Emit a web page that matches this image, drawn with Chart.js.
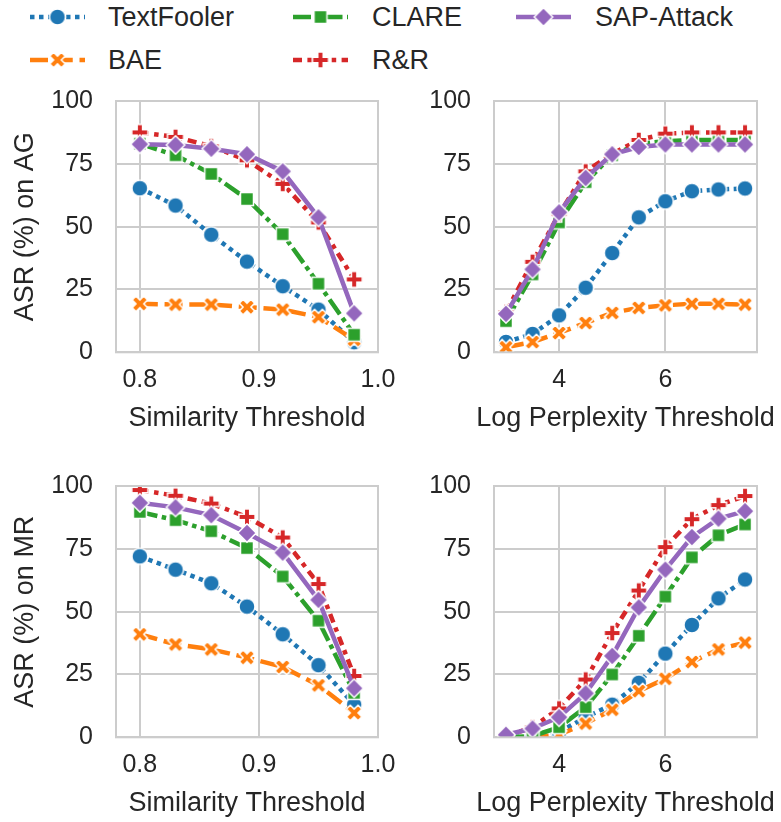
<!DOCTYPE html>
<html>
<head>
<meta charset="utf-8">
<script src="https://cdn.jsdelivr.net/npm/chart.js@4.4.0/dist/chart.umd.min.js"></script>
<style>
  body { margin: 0; width: 781px; height: 822px; overflow: hidden; background: #fff;
         font-family: "Liberation Sans", Arial, sans-serif; color: #262626; }
  canvas.panel { position: absolute; }
  .leg-sample { position: absolute; }
  .leg-text { position: absolute; font-size: 27px; line-height: 32px; white-space: nowrap; }
</style>
</head>
<body>
<div id="legend"></div>
<canvas id="agSim" class="panel"></canvas>
<canvas id="agPpl" class="panel"></canvas>
<canvas id="mrSim" class="panel"></canvas>
<canvas id="mrPpl" class="panel"></canvas>

<script>
// series
const seriesNames   = ['TextFooler', 'BAE', 'CLARE', 'R&R', 'SAP-Attack'];
const seriesColors  = ['#1f77b4', '#ff7f0e', '#2ca02c', '#d62728', '#9467bd'];
const seriesMarkers = ['circle', 'x', 'square', 'plus', 'diamond'];

// x values and ticks
const simThresholds = [0.80, 0.83, 0.86, 0.89, 0.92, 0.95, 0.98];
const pplThresholds = [3, 3.5, 4, 4.5, 5, 5.5, 6, 6.5, 7, 7.5];
const simTicks = [0.8, 0.9, 1.0];
const pplTicks = [4, 6];
const asrTicks = [0, 25, 50, 75, 100];

// ASR on AG vs similarity threshold
const agSimTextFooler = [65.3, 58.4, 46.8, 36.1, 26.3, 17.0, 4.0];
const agSimBAE        = [19.3, 19.0, 19.0, 18.0, 17.0, 14.0, 5.0];
const agSimCLARE      = [83.0, 78.4, 71.0, 61.0, 47.0, 27.3, 7.0];
const agSimRR         = [87.5, 85.7, 82.0, 76.4, 67.0, 51.7, 29.0];
const agSimSAP        = [82.8, 82.5, 81.0, 78.8, 72.0, 53.7, 15.5];

// ASR on AG vs log perplexity threshold
const agPplTextFooler = [4.1, 7.3, 14.7, 25.7, 39.5, 53.7, 60.1, 64.1, 64.8, 65.2];
const agPplBAE        = [2.0, 4.1, 7.7, 11.7, 15.7, 17.7, 18.7, 19.3, 19.3, 19.0];
const agPplCLARE      = [12.4, 31.0, 51.7, 67.7, 78.4, 83.0, 84.0, 84.5, 84.5, 84.5];
const agPplRR         = [16.0, 36.0, 55.0, 72.0, 79.0, 84.5, 87.0, 87.5, 87.5, 87.5];
const agPplSAP        = [15.3, 33.0, 55.7, 69.4, 78.8, 81.7, 82.7, 82.7, 82.7, 82.7];

// ASR on MR vs similarity threshold
const mrSimTextFooler = [72.0, 66.7, 61.3, 52.0, 41.0, 28.7, 13.0];
const mrSimBAE        = [41.0, 37.0, 35.0, 31.7, 28.0, 20.7, 9.7];
const mrSimCLARE      = [89.7, 86.4, 82.0, 75.3, 64.0, 46.4, 17.7];
const mrSimRR         = [98.4, 96.1, 93.0, 87.7, 79.5, 61.0, 24.4];
const mrSimSAP        = [93.3, 91.5, 88.4, 81.3, 73.5, 54.7, 19.5];

// ASR on MR vs log perplexity threshold
const mrPplTextFooler = [0.0, 0.5, 2.0, 8.0, 13.0, 21.7, 33.3, 44.7, 55.3, 62.8];
const mrPplBAE        = [0.0, 0.0, 1.0, 5.5, 11.0, 18.4, 23.3, 30.0, 35.0, 37.7];
const mrPplCLARE      = [0.0, 0.5, 4.0, 12.0, 25.0, 40.4, 56.0, 71.6, 80.4, 84.7];
const mrPplRR         = [0.5, 4.0, 11.5, 23.0, 41.5, 58.4, 75.7, 86.8, 92.4, 96.0];
const mrPplSAP        = [1.0, 3.5, 8.0, 17.5, 32.4, 51.7, 66.7, 79.7, 87.0, 90.0];

const LW = 4.5;
const dashes = [[LW, LW], [4 * LW, 1.5 * LW], [4 * LW, LW, LW, LW], [2 * LW, 1.2 * LW, LW, 1.2 * LW], []];
const FONT = '"Liberation Sans", Arial, sans-serif';
const INK = '#262626';
const GRID = '#cccccc';
const TICK_PAD_Y = 23;
const TICK_SIZE = 25;
const LABEL_SIZE = 27;

Chart.defaults.font.family = FONT;
Chart.defaults.color = INK;

// seaborn-like filled markers with a white edge
function markerCanvas(shape, color) {
  const s = 24;
  const c = document.createElement('canvas');
  c.width = s; c.height = s;
  const g = c.getContext('2d');
  g.translate(s / 2, s / 2);
  g.beginPath();
  let pts = null, k = 1;
  if (shape === 'circle') {
    g.arc(0, 0, 8, 0, Math.PI * 2);
  } else if (shape === 'square') {
    g.rect(-6.5, -6.5, 13, 13);
  } else if (shape === 'diamond') {
    pts = [[0, -1], [1, 0], [0, 1], [-1, 0]]; k = 9.2;
  } else if (shape === 'plus') {
    pts = [[-1,-3],[1,-3],[1,-1],[3,-1],[3,1],[1,1],[1,3],[-1,3],[-1,1],[-3,1],[-3,-1],[-1,-1]]; k = 2.7;
  } else if (shape === 'x') {
    pts = [[-1,-2],[0,-1],[1,-2],[2,-1],[1,0],[2,1],[1,2],[0,1],[-1,2],[-2,1],[-1,0],[-2,-1]]; k = 3.9;
  }
  if (pts) {
    pts.forEach((p, i) => i ? g.lineTo(p[0] * k, p[1] * k) : g.moveTo(p[0] * k, p[1] * k));
    g.closePath();
  }
  g.fillStyle = color;
  g.fill();
  g.strokeStyle = '#ffffff';
  g.lineWidth = 1.5;
  g.stroke();
  return c;
}

const markerImgs = seriesNames.map((n, i) => markerCanvas(seriesMarkers[i], seriesColors[i]));

// legend
const legendLineX = [30, 293, 516];
const legendTextX = [108, 372, 595];
const legendRowY = [17, 60];
const legend = document.getElementById('legend');
seriesNames.forEach((name, i) => {
  const col = Math.floor(i / 2), row = i % 2;
  const cv = document.createElement('canvas');
  cv.width = 63; cv.height = 26;
  cv.className = 'leg-sample';
  cv.style.left = (legendLineX[col] - 4) + 'px';
  cv.style.top = (legendRowY[row] - 13) + 'px';
  const g = cv.getContext('2d');
  g.strokeStyle = seriesColors[i];
  g.lineWidth = LW;
  g.setLineDash(dashes[i]);
  g.beginPath(); g.moveTo(4, 13); g.lineTo(59, 13); g.stroke();
  g.drawImage(markerImgs[i], 31.5 - 12, 13 - 12);
  legend.appendChild(cv);
  const t = document.createElement('div');
  t.className = 'leg-text';
  t.textContent = name;
  t.style.left = legendTextX[col] + 'px';
  t.style.top = (legendRowY[row] - 16) + 'px';
  legend.appendChild(t);
});

// plot frame on top of the lines, like matplotlib spines
const framePlugin = {
  id: 'frame',
  afterDatasetsDraw(chart) {
    const a = chart.chartArea, ctx = chart.ctx;
    ctx.save();
    ctx.strokeStyle = GRID;
    ctx.lineWidth = 2;
    ctx.strokeRect(a.left, a.top, a.right - a.left, a.bottom - a.top);
    ctx.restore();
  }
};

// x axis title, allowed to run wider than the plot (Chart.js would squeeze it)
const xTitlePlugin = {
  id: 'xTitle',
  afterDraw(chart, args, opts) {
    const a = chart.chartArea, ctx = chart.ctx;
    ctx.save();
    ctx.font = LABEL_SIZE + 'px ' + FONT;
    ctx.fillStyle = INK;
    ctx.textAlign = 'center';
    ctx.textBaseline = 'middle';
    ctx.fillText(opts.text, (a.left + a.right) / 2, a.bottom + 66);
    ctx.restore();
  }
};

function makePanel(id, box, xs, xTicks, xMin, xMax, xFmt, xTitle, yTitle, values) {
  const cv = document.getElementById(id);
  // the y scale reserves half a tick label plus its padding above the plot
  const topReserve = TICK_SIZE * 1.2 / 2 + TICK_PAD_Y;
  const Lc = box.left - box.yAxisW;
  const Tc = box.top - topReserve;
  const W = Math.min(781, box.right + box.padR) - Lc;
  const H = Math.round(box.bottom + 84 - Tc);
  cv.width = W; cv.height = H;
  cv.style.left = Lc + 'px'; cv.style.top = Tc + 'px';

  const datasets = values.map((vals, i) => ({
    label: seriesNames[i],
    data: xs.map((x, j) => ({ x: x, y: vals[j] })),
    borderColor: seriesColors[i],
    backgroundColor: seriesColors[i],
    borderWidth: LW,
    borderDash: dashes[i],
    borderJoinStyle: 'round',
    tension: 0,
    pointStyle: markerImgs[i],
    pointRadius: 8,
    pointHoverRadius: 8,
    clip: 0,
    order: values.length - 1 - i
  }));

  const ch = new Chart(cv, {
    type: 'line',
    data: { datasets: datasets },
    plugins: [framePlugin, xTitlePlugin],
    options: {
      responsive: false,
      animation: false,
      events: [],
      layout: { padding: { left: 0, top: 0, right: W - (box.right - Lc), bottom: 0 } },
      plugins: { legend: { display: false }, tooltip: { enabled: false }, xTitle: { text: xTitle } },
      scales: {
        x: {
          type: 'linear',
          min: xMin, max: xMax,
          afterBuildTicks: s => { s.ticks = xTicks.map(v => ({ value: v })); },
          afterFit: s => { s.height = H - (box.bottom - Tc); },
          ticks: { font: { size: TICK_SIZE }, color: INK, padding: 13, maxRotation: 0, callback: xFmt },
          grid: { color: GRID, lineWidth: 2, drawTicks: false },
          border: { display: false },
          title: { display: false }
        },
        y: {
          min: 0, max: 100,
          afterBuildTicks: s => { s.ticks = asrTicks.map(v => ({ value: v })); },
          afterFit: s => { s.width = box.yAxisW; },
          ticks: { font: { size: TICK_SIZE }, color: INK, padding: TICK_PAD_Y },
          grid: { color: GRID, lineWidth: 2, drawTicks: false },
          border: { display: false },
          title: { display: !!yTitle, text: yTitle, font: { size: LABEL_SIZE }, color: INK, padding: { top: 9, bottom: 0 } }
        }
      }
    }
  });
  // nudge the canvas so the plot top lands where it should
  const dy = ch.chartArea.top - (box.top - Tc);
  if (Math.abs(dy) > 0.5) cv.style.top = (Tc - dy) + 'px';
}

const fmt1 = v => v.toFixed(1);
const fmt0 = v => String(v);

makePanel('agSim', { left: 116, top: 100.5, right: 378, bottom: 351.8, yAxisW: 116, padR: 42 },
  simThresholds, simTicks, 0.78, 1.0, fmt1, 'Similarity Threshold', 'ASR (%) on AG',
  [agSimTextFooler, agSimBAE, agSimCLARE, agSimRR, agSimSAP]);
makePanel('agPpl', { left: 494, top: 100.5, right: 757, bottom: 351.8, yAxisW: 94, padR: 24 },
  pplThresholds, pplTicks, 2.775, 7.725, fmt0, 'Log Perplexity Threshold', '',
  [agPplTextFooler, agPplBAE, agPplCLARE, agPplRR, agPplSAP]);
makePanel('mrSim', { left: 116, top: 485.5, right: 378, bottom: 736.8, yAxisW: 116, padR: 42 },
  simThresholds, simTicks, 0.78, 1.0, fmt1, 'Similarity Threshold', 'ASR (%) on MR',
  [mrSimTextFooler, mrSimBAE, mrSimCLARE, mrSimRR, mrSimSAP]);
makePanel('mrPpl', { left: 494, top: 485.5, right: 757, bottom: 736.8, yAxisW: 94, padR: 24 },
  pplThresholds, pplTicks, 2.775, 7.725, fmt0, 'Log Perplexity Threshold', '',
  [mrPplTextFooler, mrPplBAE, mrPplCLARE, mrPplRR, mrPplSAP]);
</script>
</body>
</html>
